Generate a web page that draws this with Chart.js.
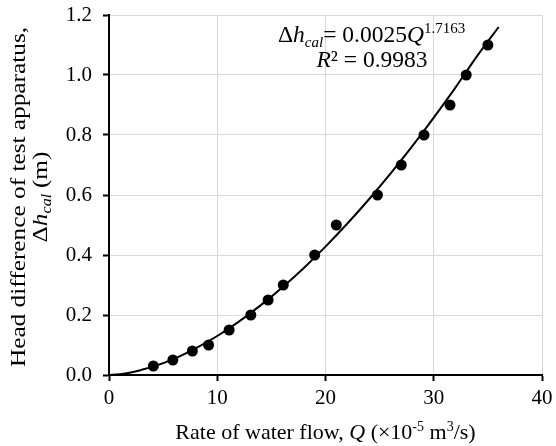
<!DOCTYPE html>
<html>
<head>
<meta charset="utf-8">
<script src="https://cdn.jsdelivr.net/npm/chart.js@4"></script>
<style>
  body { margin: 0; background: #fff; }
  canvas { display: block; }
</style>
</head>
<body>
<canvas id="grafico" width="556" height="446"></canvas>
<script>
// measured points (Q in 1e-5 m3/s, head in m)
const flowQ = [4.1, 5.9, 7.7, 9.2, 11.1, 13.1, 14.7, 16.1, 19.0, 21.0, 24.8, 27.0, 29.1, 31.5, 33.0, 35.0];
const headDiff = [0.03, 0.05, 0.08, 0.10, 0.15, 0.20, 0.25, 0.30, 0.40, 0.50, 0.60, 0.70, 0.80, 0.90, 1.00, 1.10];

// trendline
const fitQ = [0, 1, 2, 3, 4, 6, 8, 10, 12, 14, 16, 18, 20, 22, 24, 26, 28, 30, 32, 34, 36];
const fitHead = [0, 0.0025, 0.008, 0.017, 0.027, 0.054, 0.089, 0.130, 0.178, 0.232, 0.292, 0.357, 0.428, 0.504, 0.585, 0.671, 0.762, 0.858, 0.958, 1.063, 1.16];

const xTicks = [0, 10, 20, 30, 40];
const yTicks = [0, 0.2, 0.4, 0.6, 0.8, 1.0, 1.2];

const SERIF = '"Liberation Serif", "Times New Roman", serif';

// desenha texto com partes em itálico / sub / sobrescrito
function drawRich(ctx, segs, x, y, align, base) {
    const fontOf = s => (s.italic ? 'italic ' : '') + (s.size || base) + 'px ' + SERIF;
    let total = 0;
    segs.forEach(s => { ctx.font = fontOf(s); s.w = ctx.measureText(s.text).width; total += s.w + (s.gap || 0); });
    let cx = align === 'center' ? x - total / 2 : x;
    ctx.textAlign = 'left';
    ctx.textBaseline = 'alphabetic';
    segs.forEach(s => {
        ctx.font = fontOf(s);
        ctx.fillText(s.text, cx, y + (s.dy || 0));
        cx += s.w + (s.gap || 0);
    });
}

const textPlugin = {
    id: 'textPlugin',
    afterDraw(chart) {
        const ctx = chart.ctx;
        const area = chart.chartArea;
        ctx.save();
        ctx.fillStyle = '#000';

        // titulo eixo x
        drawRich(ctx, [
            { text: 'Rate of water flow, ' },
            { text: 'Q', italic: true },
            { text: ' (×10' },
            { text: '-5', size: 14, dy: -8 },
            { text: ' m' },
            { text: '3', size: 14, dy: -8 },
            { text: '/s)' }
        ], (area.left + area.right) / 2, 439, 'center', 22);

        // titulo eixo y (duas linhas), um pouco esticado no comprimento
        const cy = 197;
        ctx.save();
        ctx.translate(25, cy);
        ctx.scale(1, 1.15);
        ctx.rotate(-Math.PI / 2);
        drawRich(ctx, [{ text: 'Head difference of test apparatus,' }], 0, 0, 'center', 22);
        ctx.restore();

        ctx.save();
        ctx.translate(47, cy);
        ctx.scale(1, 1.15);
        ctx.rotate(-Math.PI / 2);
        drawRich(ctx, [
            { text: 'Δ' },
            { text: 'h', italic: true },
            { text: 'cal', italic: true, size: 14, dy: 4, gap: 5 },
            { text: '(m)' }
        ], 0, 0, 'center', 22);
        ctx.restore();

        // equacao da linha de tendencia
        drawRich(ctx, [
            { text: 'Δ' },
            { text: 'h', italic: true },
            { text: 'cal', italic: true, size: 15, dy: 5 },
            { text: '= 0.0025' },
            { text: 'Q', italic: true },
            { text: '1.7163', size: 15, dy: -9 }
        ], 278, 42, 'left', 23.5);
        drawRich(ctx, [
            { text: 'R', italic: true },
            { text: '² = 0.9983' }
        ], 372, 67, 'center', 23.5);

        ctx.restore();
    }
};

const ctx = document.getElementById('grafico').getContext('2d');

new Chart(ctx, {
    type: 'scatter',
    data: {
        datasets: [
            {
                label: 'Medido',
                data: flowQ.map((q, i) => ({ x: q, y: headDiff[i] })),
                pointRadius: 5.5,
                pointHoverRadius: 5.5,
                backgroundColor: '#000',
                borderColor: '#000',
                borderWidth: 0
            },
            {
                label: 'Ajuste',
                data: fitQ.map((q, i) => ({ x: q, y: fitHead[i] })),
                showLine: true,
                pointRadius: 0,
                borderColor: '#000',
                borderWidth: 2,
                cubicInterpolationMode: 'monotone'
            }
        ]
    },
    options: {
        responsive: false,
        animation: false,
        devicePixelRatio: 1,
        layout: { padding: { top: 15, right: 14, left: 0, bottom: 0 } },
        plugins: { legend: { display: false }, tooltip: { enabled: false } },
        scales: {
            x: {
                type: 'linear',
                min: 0,
                max: 40,
                afterBuildTicks: s => { s.ticks = xTicks.map(v => ({ value: v })); },
                afterFit: s => { s.height = 71; s.paddingLeft = 0; s.paddingRight = 0; },
                ticks: { font: { family: SERIF, size: 21 }, color: '#000', padding: 5, maxRotation: 0 },
                grid: { color: '#d9d9d9', lineWidth: 1, tickColor: '#000', tickLength: 6, tickWidth: 2 },
                border: { color: '#000', width: 2 }
            },
            y: {
                type: 'linear',
                min: 0,
                max: 1.2,
                afterBuildTicks: s => { s.ticks = yTicks.map(v => ({ value: v })); },
                afterFit: s => { s.width = 109; s.paddingTop = 0; s.paddingBottom = 0; },
                ticks: { font: { family: SERIF, size: 21 }, color: '#000', padding: 11, callback: v => v.toFixed(1) },
                grid: { color: '#d9d9d9', lineWidth: 1, tickColor: '#000', tickLength: 6, tickWidth: 2 },
                border: { color: '#000', width: 2 }
            }
        }
    },
    plugins: [textPlugin]
});
</script>
</body>
</html>
